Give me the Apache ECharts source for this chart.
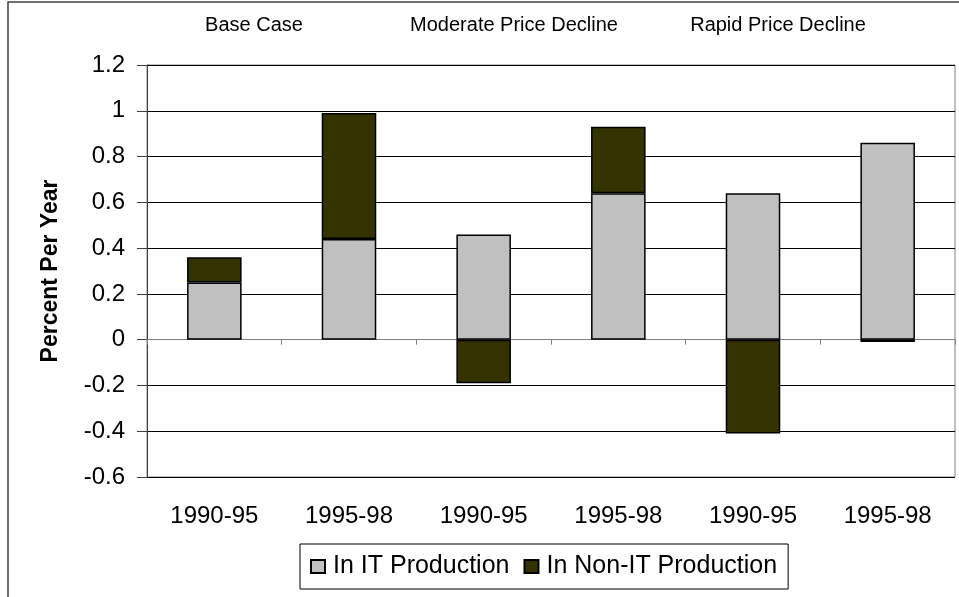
<!DOCTYPE html>
<html>
    <head>
        <meta charset="utf-8">
    </head>
    <body style="margin:0">
        <div id="main" style="width:959px;height:597px"></div>
        <script src="https://cdn.jsdelivr.net/npm/echarts@6/dist/echarts.min.js"></script>
        <script type="text/javascript">
            // periods along the x axis, three scenarios of two periods each
            var periods = ['1990-95', '1995-98', '1990-95', '1995-98', '1990-95', '1995-98']
            var scenarios = ['Base Case', 'Moderate Price Decline', 'Rapid Price Decline']
            var itProduction = [0.25, 0.44, 0.46, 0.64, 0.64, 0.86]
            var nonItProduction = [0.11, 0.55, -0.19, 0.29, -0.41, -0.01]
            var yTicks = [-0.6, 1.2, 0.2]   // min, max, step

            var font = 'Liberation Sans, Arial, sans-serif'
            var scenarioX = [254, 514, 778]

            var option = {
                animation: false,
                backgroundColor: '#fff',
                textStyle: { fontFamily: font },
                grid: { left: 147, right: 4, top: 65, bottom: 120, show: true, borderColor: '#808080', borderWidth: 1 },
                legend: {
                    data: ['In IT Production', 'In Non-IT Production'],
                    left: 300, top: 544,
                    itemWidth: 14, itemHeight: 13, itemGap: 14,
                    padding: [10, 11, 10, 10],
                    borderColor: '#000', borderWidth: 1, backgroundColor: '#fff',
                    textStyle: { fontSize: 25, color: '#000', fontFamily: font, padding: [0, 0, 0, 3] },
                    icon: 'rect'
                },
                xAxis: [{
                    type: 'category',
                    data: periods,
                    position: 'bottom',
                    axisLine: { show: false, onZero: false },
                    axisTick: { show: false },
                    axisLabel: { fontSize: 24, color: '#000', margin: 27, fontFamily: font }
                }, {
                    type: 'category',
                    data: periods,
                    position: 'bottom',
                    axisLine: { show: true, onZero: true, lineStyle: { color: '#808080' } },
                    axisTick: { show: true, length: 5, lineStyle: { color: '#808080' } },
                    axisLabel: { show: false }
                }],
                yAxis: {
                    type: 'value',
                    min: yTicks[0], max: yTicks[1], interval: yTicks[2],
                    name: 'Percent Per Year',
                    nameLocation: 'middle',
                    nameGap: 85,
                    nameTextStyle: { fontSize: 23, fontWeight: 'bold', color: '#000', fontFamily: font },
                    axisLine: { show: true, lineStyle: { color: '#404040', width: 1 } },
                    axisTick: { show: true, length: 10, lineStyle: { color: '#404040' } },
                    axisLabel: {
                        fontSize: 24, color: '#000', margin: 22, fontFamily: font,
                        formatter: function (v) { return String(+v.toFixed(1)) }
                    },
                    splitLine: { show: true, lineStyle: { color: '#000', width: 1 } }
                },
                series: [{
                    name: 'In IT Production',
                    type: 'bar',
                    stack: 'total',
                    barWidth: '40.5%',
                    data: itProduction,
                    itemStyle: { color: '#c0c0c0', borderColor: '#000', borderWidth: 1.5 }
                }, {
                    name: 'In Non-IT Production',
                    type: 'bar',
                    stack: 'total',
                    barWidth: '40.5%',
                    data: nonItProduction,
                    itemStyle: { color: '#333300', borderColor: '#000', borderWidth: 1.5 }
                }],
                graphic: [{
                    type: 'rect',
                    z: -10,
                    shape: { x: 8, y: 2, width: 1000, height: 700 },
                    style: { fill: '#fff', stroke: '#404040', lineWidth: 1.5 }
                }].concat(scenarios.map(function (s, i) {
                    return {
                        type: 'text',
                        x: scenarioX[i], y: 25,
                        style: { text: s, fill: '#000', font: '20px ' + font, textAlign: 'center', textVerticalAlign: 'middle' }
                    }
                }))
            }

            var mycharts = echarts.init(document.getElementById('main'))
            mycharts.setOption(option)
        </script>
    </body>
</html>
